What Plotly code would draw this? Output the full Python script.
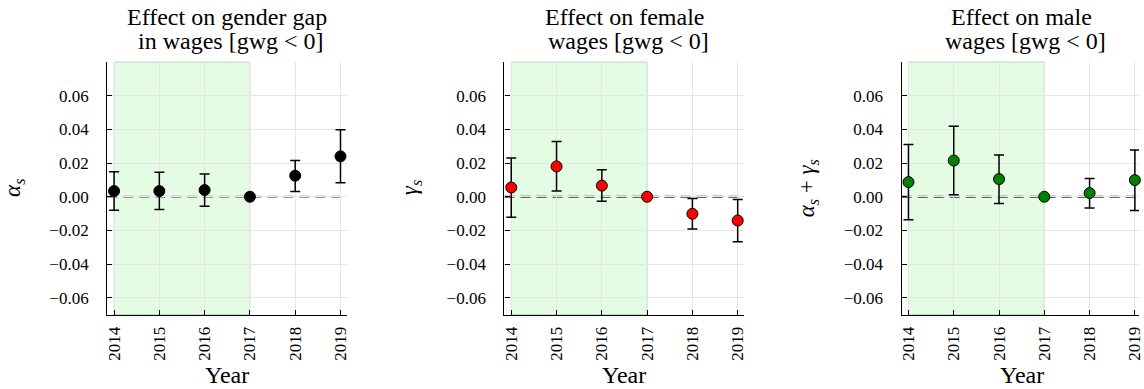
import math
import plotly.graph_objects as go

# Event-study estimates by year (2017 is the reference year)
years = [2014, 2015, 2016, 2017, 2018, 2019]

gap_est = [0.0034, 0.0034, 0.0040, 0.0, 0.0125, 0.0240]
gap_lo = [-0.0080, -0.0076, -0.0056, None, 0.0032, 0.0083]
gap_hi = [0.0148, 0.0145, 0.0135, None, 0.0216, 0.0398]

fem_est = [0.0055, 0.0180, 0.0066, 0.0, -0.0101, -0.0141]
fem_lo = [-0.0121, 0.0034, -0.0026, None, -0.0192, -0.0267]
fem_hi = [0.0230, 0.0328, 0.0160, None, -0.0010, -0.0016]

male_est = [0.0087, 0.0215, 0.0105, 0.0, 0.0022, 0.0099]
male_lo = [-0.0137, 0.0012, -0.0040, None, -0.0067, -0.0081]
male_hi = [0.0311, 0.0418, 0.0248, None, 0.0109, 0.0277]

titles = [
    ("Effect on gender gap", "in wages [gwg < 0]"),
    ("Effect on female", "wages [gwg < 0]"),
    ("Effect on male", "wages [gwg < 0]"),
]
ylabels = [
    "<i>α</i><sub><i>s</i></sub>",
    "<i>γ</i><sub><i>s</i></sub>",
    "<i>α</i><sub><i>s</i></sub> + <i>γ</i><sub><i>s</i></sub>",
]
ytick_vals = [-0.06, -0.04, -0.02, 0.0, 0.02, 0.04, 0.06]
treat_start, treat_end = 2014, 2017

W, H = 1144, 389
FONT = "Liberation Serif"

panels = [
    dict(est=gap_est, lo=gap_lo, hi=gap_hi, color="black", zero="#7f7f7f",
         px=(105, 346.7), xr=(2013.85, 2019.15)),
    dict(est=fem_est, lo=fem_lo, hi=fem_hi, color="#ff0000", zero="#333333",
         px=(505, 746.7), xr=(2013.85, 2019.15)),
    dict(est=male_est, lo=male_lo, hi=male_hi, color="#008000", zero="#333333",
         px=(905, 1144), xr=(2013.85, 2013.85 + (1144 - 905) / 45.6)),
]

top_px, bot_px = 62, 314.7
ydom = [1 - bot_px / H, 1 - top_px / H]


def err(vals, bounds, upper):
    out = []
    for v, b in zip(vals, bounds):
        if b is None:
            out.append(math.nan)
        else:
            out.append(b - v if upper else v - b)
    return out


fig = go.Figure()
annotations = []
shapes = []

for i, p in enumerate(panels):
    k = "" if i == 0 else str(i + 1)
    xa, ya = "x" + k, "y" + k
    dom = [p["px"][0] / W, min(p["px"][1] / W, 1.0)]

    fig.add_trace(go.Scatter(
        x=years, y=p["est"], xaxis=xa, yaxis=ya, mode="markers",
        marker=dict(size=11, color=p["color"], line=dict(color="black", width=1)),
        error_y=dict(type="data", symmetric=False,
                     array=err(p["est"], p["hi"], True),
                     arrayminus=err(p["est"], p["lo"], False),
                     color="black", thickness=1.5, width=5),
        cliponaxis=False, showlegend=False,
    ))

    axis_common = dict(
        showline=True, linecolor="black", linewidth=1.3, mirror=False,
        ticks="inside", ticklen=5, tickwidth=1, tickcolor="black",
        showgrid=True, gridcolor="#e6e6e6", gridwidth=1, zeroline=False,
        tickfont=dict(family=FONT, size=17, color="black"),
        ticklabeloverflow="allow",
    )
    fig.update_layout(**{
        ("xaxis" + k): dict(axis_common, domain=dom, range=list(p["xr"]),
                            anchor=ya, tickvals=years, tickangle=-90,
                            ticklabelstandoff=4),
        ("yaxis" + k): dict(axis_common, domain=ydom, range=[-0.07, 0.08],
                            anchor=xa, tickvals=ytick_vals, tickformat=".2f",
                            ticklabelstandoff=14),
    })

    # pre-period shading
    shapes.append(dict(type="rect", xref=xa, yref=ya + " domain",
                       x0=treat_start, x1=treat_end, y0=0, y1=1, layer="below",
                       fillcolor="rgba(144,238,144,0.24)",
                       line=dict(color="rgba(60,140,60,0.3)", width=1)))
    # zero reference line
    shapes.append(dict(type="line", xref=xa + " domain", yref=ya,
                       x0=0, x1=1, y0=0, y1=0, layer="below",
                       line=dict(color=p["zero"], width=2, dash="10px,6px")))

    cx = (p["px"][0] + p["px"][0] + 241.7) / 2 / W
    t1, t2 = titles[i]
    annotations.append(dict(text=t1, x=cx, y=1 - 16.5 / H, xref="paper", yref="paper",
                            xanchor="center", yanchor="middle", showarrow=False,
                            font=dict(family=FONT, size=24, color="black")))
    annotations.append(dict(text=t2, x=cx + 4 / W, y=1 - 41 / H, xref="paper", yref="paper",
                            xanchor="center", yanchor="middle", showarrow=False,
                            font=dict(family=FONT, size=24, color="black")))
    annotations.append(dict(text="Year", x=cx, y=1 - 375 / H, xref="paper", yref="paper",
                            xanchor="center", yanchor="middle", showarrow=False,
                            font=dict(family=FONT, size=24, color="black")))
    annotations.append(dict(text=ylabels[i], x=(p["px"][0] - 94) / W, y=1 - 188 / H,
                            xref="paper", yref="paper", textangle=-90,
                            xanchor="center", yanchor="middle", showarrow=False,
                            font=dict(family=FONT, size=23, color="black")))

fig.update_layout(
    width=W, height=H, margin=dict(l=0, r=0, t=0, b=0),
    paper_bgcolor="white", plot_bgcolor="white",
    shapes=shapes, annotations=annotations,
    font=dict(family=FONT, color="black"),
)

fig.write_html("out.html")
